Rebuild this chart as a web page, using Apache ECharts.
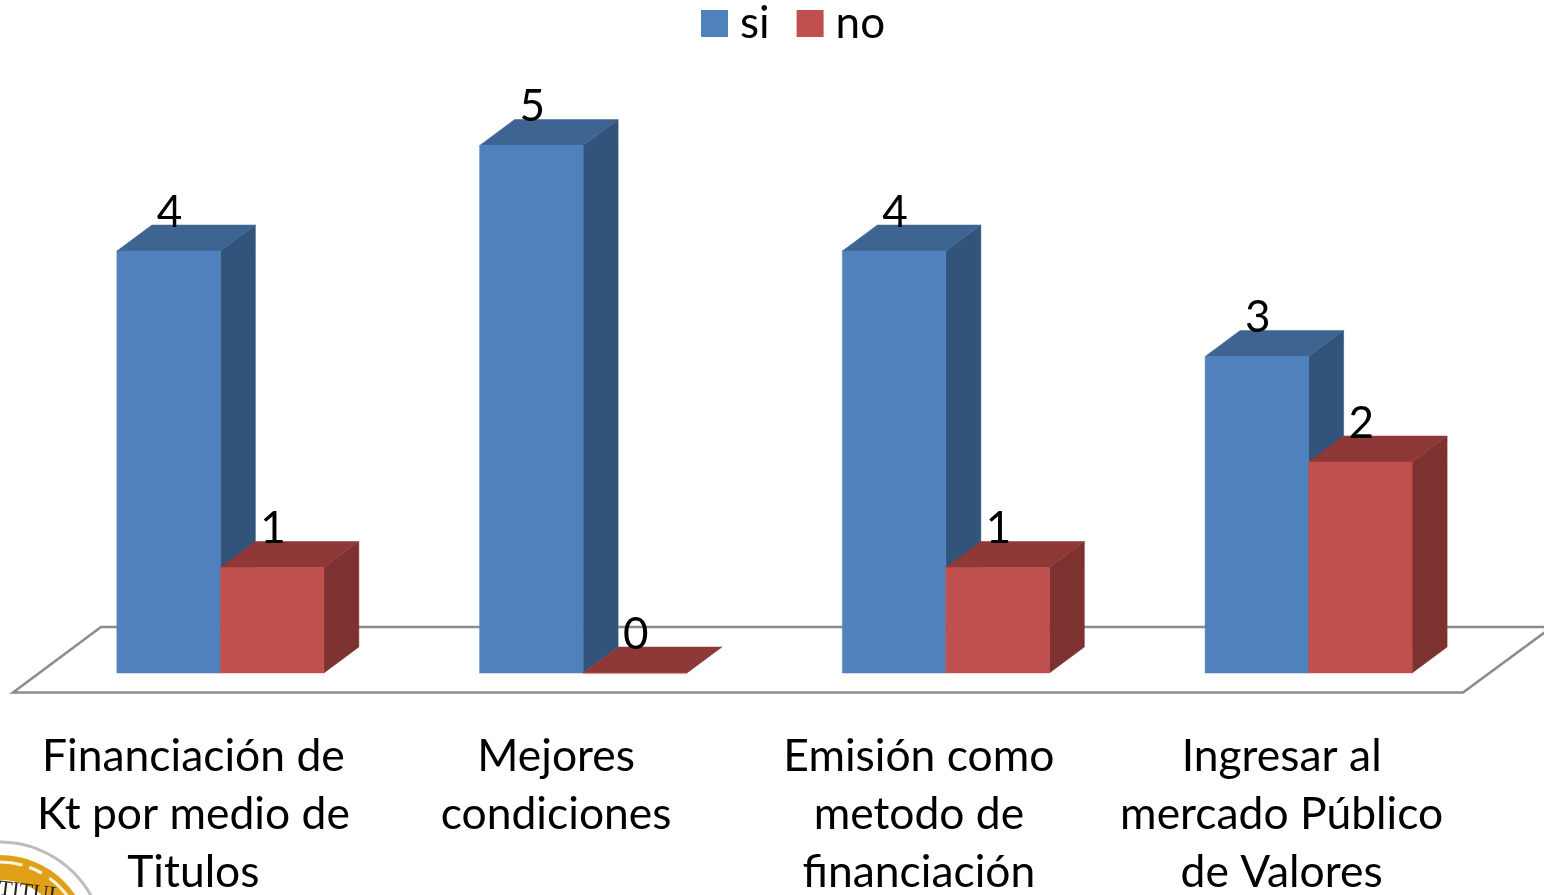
<!DOCTYPE html>
<html>
<head>
<meta charset="utf-8">
<style>html,body{margin:0;padding:0;background:#fff}#chart{width:1544px;height:895px}</style>
<script src="https://cdn.jsdelivr.net/npm/echarts@6/dist/echarts.min.js"></script>
</head>
<body>
<div id="chart"></div>
<script>
const categories = [
  'Financiación de\nKt por medio de\nTitulos',
  'Mejores\ncondiciones',
  'Emisión como\nmetodo de\nfinanciación',
  'Ingresar al\nmercado Público\nde Valores'
];
const siValues = [4, 5, 4, 3];
const noValues = [1, 0, 1, 2];

const FONT = 'Lato, Carlito, "Open Sans", sans-serif';
const DEPTH_X = 35, DEPTH_Y = 26;
const BAR_SHARE = 0.2853, BAR_SHIFT = 0.0744;

// One extruded column: front face, top and right side, plus its value above the top.
function barRenderer(side, front, top, flank) {
  return function (params, api) {
    const value = api.value(1);
    const head = api.coord([api.value(0), value]);
    const foot = api.coord([api.value(0), 0]);
    const band = api.size([1, 0])[0];
    const w = band * BAR_SHARE;
    const x0 = head[0] + band * BAR_SHIFT + (side === 0 ? -w : 0);
    const x1 = x0 + w;
    const yT = head[1], yB = foot[1];
    const poly = (points, fill) => ({
      type: 'polygon',
      shape: { points },
      style: { fill, stroke: fill, lineWidth: 0.5 }
    });
    return {
      type: 'group',
      children: [
        poly([[x1, yB], [x1 + DEPTH_X, yB - DEPTH_Y], [x1 + DEPTH_X, yT - DEPTH_Y], [x1, yT]], flank),
        poly([[x0, yT], [x1, yT], [x1 + DEPTH_X, yT - DEPTH_Y], [x0 + DEPTH_X, yT - DEPTH_Y]], top),
        poly([[x0, yT], [x1, yT], [x1, yB], [x0, yB]], front),
        {
          type: 'text',
          style: {
            text: String(value),
            x: (x0 + x1) / 2 + 1,
            y: yT - 38.5,
            align: 'center',
            verticalAlign: 'middle',
            font: '44px ' + FONT,
            fill: '#000'
          }
        }
      ]
    };
  };
}

// Floor plate beneath the columns, outlined only.
function floorRenderer(params, api) {
  const cs = params.coordSys;
  const baseY = cs.y + cs.height;
  const l = cs.x + 1, r = cs.x + cs.width;
  return {
    type: 'polygon',
    shape: { points: [[l, baseY + 19.5], [r, baseY + 19.5], [r + 89, baseY - 46], [l + 88, baseY - 46]] },
    style: { fill: '#fff', stroke: '#8c8c8c', lineWidth: 2.5 }
  };
}

const chart = echarts.init(document.getElementById('chart'), null, { renderer: 'canvas' });
chart.setOption({
  animation: false,
  backgroundColor: '#fff',
  textStyle: { fontFamily: FONT },
  legend: {
    data: ['si', 'no'],
    top: -3.5,
    left: 696,
    itemWidth: 27,
    itemHeight: 27,
    itemGap: 27,
    icon: 'rect',
    textStyle: { fontSize: 44, fontFamily: FONT, color: '#000', padding: [0, 0, 0, 7] }
  },
  grid: { left: 12, width: 1451, top: 145.5, height: 527.5, outerBoundsMode: 'none' },
  xAxis: {
    type: 'category',
    data: categories,
    axisLine: { show: false },
    axisTick: { show: false },
    axisLabel: {
      interval: 0,
      margin: 54.5,
      fontSize: 44.4,
      lineHeight: 58,
      color: '#000',
      fontFamily: FONT,
      verticalAlign: 'top'
    }
  },
  yAxis: { type: 'value', min: 0, max: 5, interval: 1, show: false },
  // University seal cut off by the lower-left corner of the page.
  graphic: {
    type: 'group',
    silent: true,
    children: [
      { type: 'circle', shape: { cx: 0, cy: 946, r: 104 }, style: { fill: '#fff', stroke: '#bcbcbc', lineWidth: 3 } },
      { type: 'circle', shape: { cx: 0, cy: 946, r: 91 }, style: { fill: '#e0a118' } },
      { type: 'circle', shape: { cx: 0, cy: 946, r: 84 }, style: { fill: 'none', stroke: '#fdf3dc', lineWidth: 3, lineDash: [26, 7, 14, 9] } },
      { type: 'circle', shape: { cx: 0, cy: 946, r: 66 }, style: { fill: '#fff' } },
      { type: 'text', x: 0, y: 878, rotation: -0.12, style: { text: 'TITUL', font: '22px "Liberation Serif", serif', fill: '#2a2013' } }
    ]
  },
  series: [
    { name: 'floor', type: 'custom', renderItem: floorRenderer, data: [[0, 0]], silent: true, z: 1 },
    {
      name: 'si', type: 'custom', z: 2,
      itemStyle: { color: '#4f81bd' },
      renderItem: barRenderer(0, '#4f81bd', '#3e6491', '#32537a'),
      encode: { x: 0, y: 1 },
      data: siValues.map((v, i) => [i, v])
    },
    {
      name: 'no', type: 'custom', z: 3,
      itemStyle: { color: '#c0504d' },
      renderItem: barRenderer(1, '#c0504d', '#8e3937', '#7d3130'),
      encode: { x: 0, y: 1 },
      data: noValues.map((v, i) => [i, v])
    }
  ]
});
</script>
</body>
</html>
